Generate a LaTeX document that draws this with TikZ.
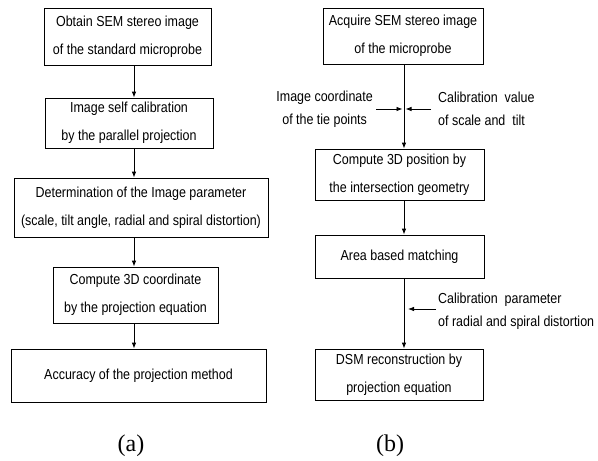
\documentclass[tikz,border=0pt]{standalone}
\usepackage{fontspec}
\setmainfont{Liberation Sans}[FakeStretch=0.86]
\newfontfamily\capfont{Liberation Serif}
\usetikzlibrary{arrows.meta,positioning}
\tikzset{
  flowbox/.style={draw, thick, align=center, inner sep=2pt,
                  font=\fontsize{14.5}{28}\selectfont},
  sidenote/.style={inner sep=1pt, font=\fontsize{14.5}{23.5}\selectfont},
  flowarr/.style={thick, -{Latex[length=6pt,width=4.5pt]}},
  subcap/.style={font=\capfont\fontsize{24}{26}\selectfont},
}
\begin{document}
\begin{tikzpicture}[x=1pt, y=-1pt]
  \useasboundingbox (0,0) rectangle (598,461);
  % (a) self calibration
  \node[flowbox, minimum width=167pt, minimum height=57pt] (a1) at (127.5,36.5)
    {Obtain SEM stereo image\\of the standard microprobe};
  \node[flowbox, minimum width=168pt, minimum height=50pt] (a2) at (129,123)
    {Image self calibration\\by the parallel projection};
  \node[flowbox, minimum width=254pt, minimum height=59pt] (a3) at (141,207.5)
    {Determination of the Image parameter\\(scale, tilt angle, radial and spiral distortion)};
  \node[flowbox, minimum width=165pt, minimum height=56pt] (a4) at (135.5,295)
    {Compute 3D coordinate\\by the projection equation};
  \node[flowbox, minimum width=255pt, minimum height=53pt] (a5) at (138.5,375.5)
    {Accuracy of the projection method};
  \coordinate (axisA) at (134,0);
  \draw[flowarr] (a1.south -| axisA) -- (a2.north -| axisA);
  \draw[flowarr] (a2.south -| axisA) -- (a3.north -| axisA);
  \draw[flowarr] (a3.south -| axisA) -- (a4.north -| axisA);
  \draw[flowarr] (a4.south -| axisA) -- (a5.north -| axisA);
  \node[subcap] (capA) at (131,446) {(a)};
  % (b) reconstruction
  \node[flowbox, minimum width=160pt, minimum height=56pt] (b1) at (403,36)
    {Acquire SEM stereo image\\of the microprobe};
  \node[flowbox, minimum width=169pt, minimum height=51pt] (b2) at (399.5,174.5)
    {Compute 3D position by\\the intersection geometry};
  \node[flowbox, minimum width=169pt, minimum height=43pt] (b3) at (399.5,256.5)
    {Area based matching};
  \node[flowbox, minimum width=168pt, minimum height=51pt] (b4) at (399,374.5)
    {DSM reconstruction by\\projection equation};
  \coordinate (axisB) at (404,0);
  \coordinate (tie) at (404,109);
  \coordinate (tieL) at (376,109);
  \coordinate (tieR) at (431,109);
  \coordinate (distR) at (436,309);
  \draw[flowarr] (b1.south -| axisB) -- (b2.north -| axisB);
  \draw[flowarr] (tieL) -- ([xshift=-1.5pt]tie);
  \draw[flowarr] (tieR) -- ([xshift=1.5pt]tie);
  \draw[flowarr] (b2.south -| axisB) -- (b3.north -| axisB);
  \draw[flowarr] (b3.south -| axisB) -- (b4.north -| axisB);
  \draw[flowarr] (distR) -- ([xshift=4pt]distR -| axisB);
  \node[sidenote, align=center, anchor=east] (tieTxt) at ([xshift=-2pt]tieL)
    {Image coordinate\\of the tie points};
  \node[sidenote, align=left, anchor=west] (calTxt) at ([xshift=6pt]tieR)
    {Calibration~ value\\of scale and~ tilt};
  \node[sidenote, align=left, anchor=west] (distTxt) at ([xshift=1pt,yshift=-2pt]distR)
    {Calibration~ parameter\\of radial and spiral distortion};
  \node[subcap] (capB) at (390,446) {(b)};
\end{tikzpicture}
\end{document}
